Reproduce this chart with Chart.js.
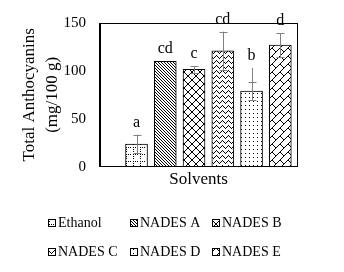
<!DOCTYPE html>
<html>
<head>
<meta charset="utf-8">
<script src="https://cdn.jsdelivr.net/npm/chart.js@4.4.0/dist/chart.umd.min.js"></script>
<style>
html,body{margin:0;padding:0;background:#fff;}
canvas{display:block;}
</style>
</head>
<body>
<canvas id="c" width="344" height="272"></canvas>
<script>
// ---- data ----
const categories = ['Ethanol', 'NADES A', 'NADES B', 'NADES C', 'NADES D', 'NADES E'];
const values = [23.6, 110, 101.6, 121, 79, 127];
const errors = [9.7, 0, 3.5, 20, 9.4, 12.5];
const stemTops = [null, null, null, null, 103, null];
const letters = ['a', 'cd', 'c', 'cd', 'b', 'd'];
const yTicks = [0, 50, 100, 150];

const FONT = 'Liberation Serif';
const canvas = document.getElementById('c');
const ctx = canvas.getContext('2d');

function tile(w, h, pts) {
  const c = document.createElement('canvas');
  c.width = w; c.height = h;
  const g = c.getContext('2d');
  g.fillStyle = '#fff'; g.fillRect(0, 0, w, h);
  g.fillStyle = '#000';
  pts.forEach(([x, y]) => g.fillRect(x, y, 1, 1));
  return ctx.createPattern(c, 'repeat');
}
function range(n) { return Array.from({length: n}, (_, i) => i); }

const patterns = [
  // dotted grid
  tile(7, 7, [[0,0],[2,0],[4,0],[0,2],[0,4]]),
  // dense downward diagonal
  tile(3, 3, range(3).map(i => [i, i])),
  // diagonal crosshatch
  tile(8, 8, range(8).flatMap(i => [[i, i], [7 - i, i]])),
  // zigzag
  tile(6, 5, [[0,0],[1,1],[2,2],[3,3],[4,2],[5,1]]),
  // sparse dots
  tile(4, 4, [[1,1]]),
  // diagonal brick
  tile(8, 8, range(8).map(i => [7 - i, i]).concat([[0,0],[1,1],[2,2],[3,3]]))
];

const overlay = {
  id: 'overlay',
  afterDatasetsDraw(chart) {
    const {ctx, chartArea: a, scales: {x, y}} = chart;
    ctx.save();
    // frame
    ctx.strokeStyle = '#000';
    ctx.lineWidth = 1;
    ctx.strokeRect(Math.round(a.left) - 0.5, Math.round(a.top) + 0.5,
                   Math.round(a.right - a.left) + 1, Math.round(a.bottom - a.top) - 1);
    // error bars
    ctx.strokeStyle = '#808080';
    values.forEach((v, i) => {
      const cx = Math.round(x.getPixelForValue(i)) + 0.5;
      const e = errors[i];
      const hi = Math.max(v + e, stemTops[i] ?? -Infinity);
      if (e > 0) {
        const yHi = y.getPixelForValue(hi), yLo = y.getPixelForValue(v - e);
        ctx.beginPath();
        ctx.moveTo(cx, yHi); ctx.lineTo(cx, yLo);
        [v + e, v - e].forEach(val => {
          const py = Math.round(y.getPixelForValue(val)) + 0.5;
          ctx.moveTo(cx - 4, py); ctx.lineTo(cx + 4, py);
        });
        ctx.stroke();
      }
    });
    // letters
    ctx.fillStyle = '#000';
    ctx.font = '16px "' + FONT + '"';
    ctx.textAlign = 'center';
    ctx.textBaseline = 'alphabetic';
    values.forEach((v, i) => {
      const hi = Math.max(v + errors[i], stemTops[i] ?? -Infinity);
      ctx.fillText(letters[i], x.getPixelForValue(i), y.getPixelForValue(hi) - 8);
    });
    ctx.restore();
  },
  afterDraw(chart) {
    const ctx = chart.ctx;
    const cols = [48, 130, 212], rows = [223, 252];
    ctx.save();
    ctx.font = '14px "' + FONT + '"';
    ctx.textBaseline = 'middle';
    ctx.textAlign = 'left';
    categories.forEach((name, i) => {
      const bx = cols[i % 3], by = rows[Math.floor(i / 3)];
      ctx.fillStyle = patterns[i];
      ctx.fillRect(bx, by - 4, 8, 8);
      ctx.strokeStyle = '#000';
      ctx.lineWidth = 1;
      ctx.strokeRect(bx + 0.5, by - 3.5, 7, 7);
      ctx.fillStyle = '#000';
      ctx.fillText(name, bx + 10, by);
    });
    ctx.restore();
  }
};

new Chart(ctx, {
  type: 'bar',
  data: {
    datasets: [{
      data: values.map((v, i) => ({x: i, y: v})),
      backgroundColor: patterns,
      borderColor: '#000',
      borderWidth: 1,
      borderSkipped: false,
      barThickness: 22
    }]
  },
  options: {
    responsive: false,
    animation: false,
    layout: {padding: {left: 0, top: 22, right: 47, bottom: 82}},
    plugins: {legend: {display: false}, tooltip: {enabled: false}},
    scales: {
      x: {
        type: 'linear', min: -1.27, max: 5.58, offset: false,
        grid: {display: false, drawTicks: false},
        border: {display: true, color: '#000', width: 1},
        ticks: {display: false},
        title: {display: true, text: 'Solvents', color: '#000',
                font: {family: FONT, size: 17}, padding: {top: 3, bottom: 0}}
      },
      y: {
        min: 0, max: 150,
        afterBuildTicks(s) { s.ticks = yTicks.map(v => ({value: v})); },
        ticks: {padding: 14, color: '#000', font: {family: FONT, size: 15}},
        grid: {display: false, drawTicks: false},
        border: {display: true, color: '#000', width: 1},
        title: {display: true, text: ['Total Anthocyanins', '(mg/100 g)'], color: '#000',
                font: {family: FONT, size: 17, lineHeight: 1.35}, padding: {top: 18, bottom: 0}},
        afterFit(s) { s.width = 100; }
      }
    }
  },
  plugins: [overlay]
});
</script>
</body>
</html>
